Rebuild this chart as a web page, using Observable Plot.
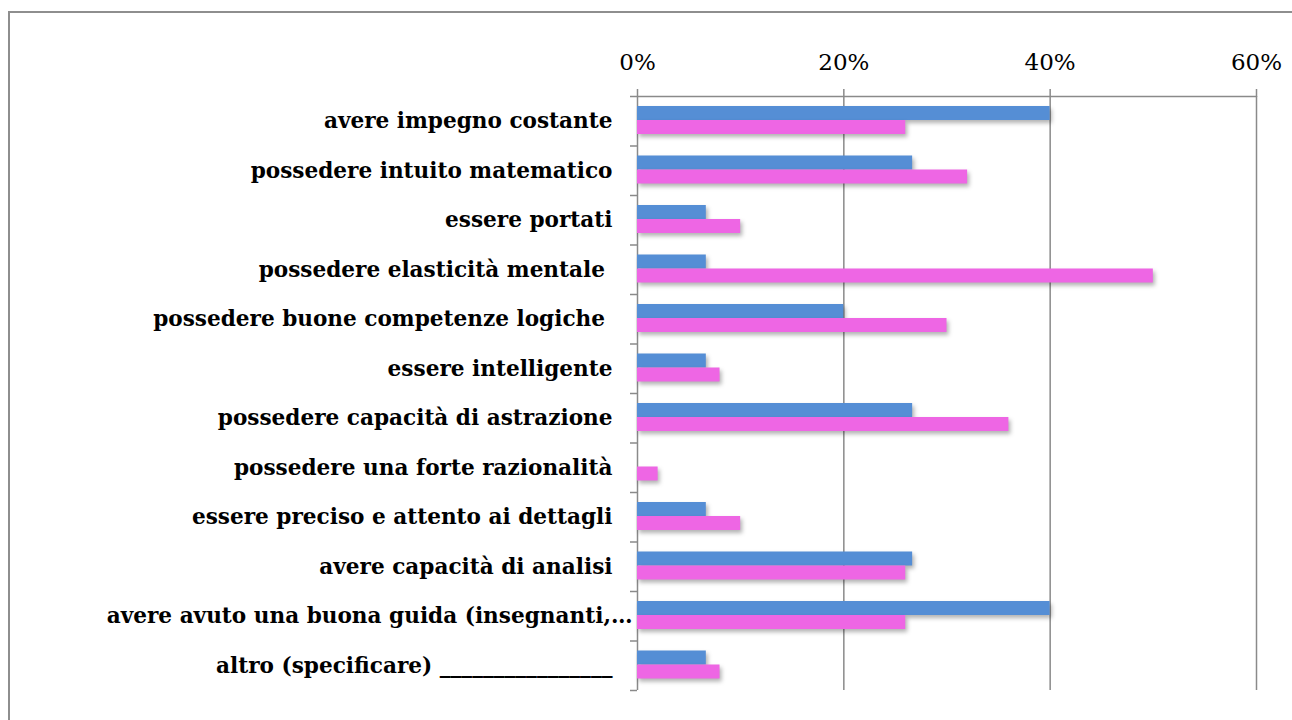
<!DOCTYPE html>
<html><head><meta charset="utf-8">
<script src="https://cdn.jsdelivr.net/npm/d3@7"></script>
<script src="https://cdn.jsdelivr.net/npm/@observablehq/plot@0.6"></script>
<style>
html,body{margin:0;padding:0;background:#fff;width:1292px;height:720px;overflow:hidden;}
#frame{position:absolute;left:8px;top:11px;width:1400px;height:800px;border:2px solid #8e8e8e;box-sizing:border-box;}
#chart{position:absolute;left:0;top:0;}
</style></head><body>
<div id="frame"></div><div id="chart"></div>
<script>
const categories = [
  "avere impegno costante",
  "possedere intuito matematico",
  "essere portati",
  "possedere elasticità mentale\u00a0",
  "possedere buone competenze logiche\u00a0",
  "essere intelligente",
  "possedere capacità di astrazione",
  "possedere una forte razionalità",
  "essere preciso e attento ai dettagli",
  "avere capacità di analisi",
  "avere avuto una buona guida (insegnanti,…",
  "altro (specificare) ________________"
];
const series1 = [0.40, 0.2667, 0.0667, 0.0667, 0.20, 0.0667, 0.2667, 0, 0.0667, 0.2667, 0.40, 0.0667];
const series2 = [0.26, 0.32, 0.10, 0.50, 0.30, 0.08, 0.36, 0.02, 0.10, 0.26, 0.26, 0.08];
const xTicks = [0, 0.2, 0.4, 0.6];
const colors = ["#558ed5", "#ee66e4"];

const data1 = categories.map((c, i) => ({category: c, value: series1[i]}));
const data2 = categories.map((c, i) => ({category: c, value: series2[i]}));
const longLabel = categories[10];

const W = 1292, H = 720, mL = 637, mR = 36, mT = 96, mB = 30;
const band = (H - mT - mB) / categories.length;
const barH = 14, gapTop = 10;
const gray = "#8a8a8a";
const labelStyle = {frameAnchor: "left", textAnchor: "end", fontSize: 21.6, fontWeight: "bold", fill: "#000"};

const plot = Plot.plot({
  width: W, height: H,
  marginLeft: mL, marginRight: mR, marginTop: mT, marginBottom: mB,
  style: {background: "transparent", fontFamily: "'DejaVu Serif', serif", color: "#000"},
  x: {domain: [0, 0.6], label: null},
  y: {domain: categories, padding: 0, round: false, label: null},
  marks: [
    Plot.gridX(xTicks, {stroke: gray, strokeOpacity: 1, strokeWidth: 1.5}),
    Plot.axisX(xTicks, {anchor: "top", label: null, tickSize: 8, tickPadding: 19, tickFormat: d3.format(".0%"),
      stroke: gray, strokeWidth: 1.5, fontSize: 23, fill: "#000"}),
    Plot.ruleY(categories.slice(0, 1), {dy: -band / 2, stroke: gray, strokeWidth: 1.5}),
    Plot.text(categories.filter(c => c !== longLabel), {y: d => d, text: d => d, dx: -25, ...labelStyle}),
    Plot.text([longLabel], {y: d => d, text: d => d, dx: -5, ...labelStyle}),
    Plot.axisY(categories, {label: null, tickSize: 7, tickFormat: () => "", dy: -band / 2, stroke: gray, strokeWidth: 1.5}),
    Plot.axisY(categories.slice(-1), {label: null, tickSize: 7, tickFormat: () => "", dy: band / 2, stroke: gray, strokeWidth: 1.5}),
    Plot.barX(data1, {y: "category", x: "value", fill: colors[0],
      insetTop: gapTop, insetBottom: band - gapTop - barH}),
    Plot.barX(data2, {y: "category", x: "value", fill: colors[1],
      insetTop: gapTop + barH, insetBottom: band - gapTop - 2 * barH})
  ]
});
document.getElementById("chart").appendChild(plot);
plot.querySelectorAll('g[aria-label="bar"]').forEach(g => {
  g.style.filter = "drop-shadow(2px 3px 2px rgba(0,0,0,0.3))";
});
</script>
</body></html>
